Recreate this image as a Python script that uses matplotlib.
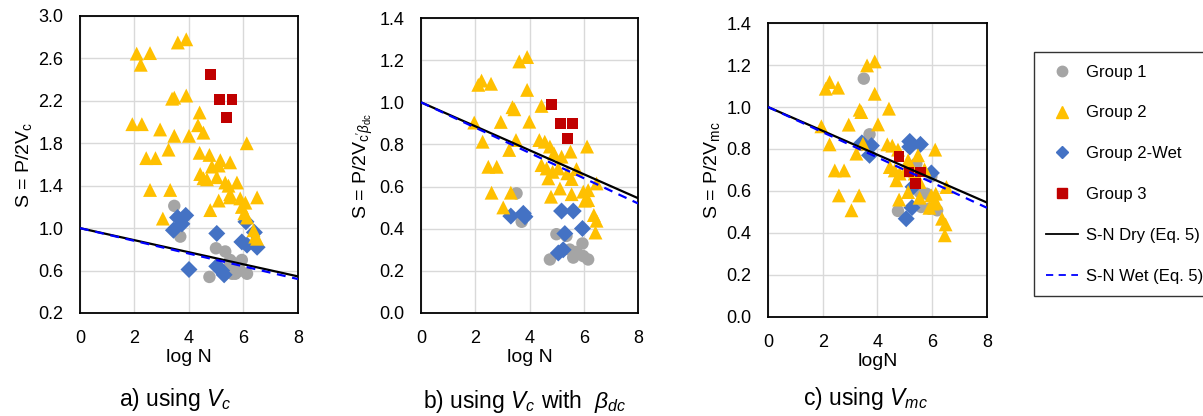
import matplotlib
matplotlib.use("Agg")
import matplotlib.pyplot as plt
import numpy as np
from matplotlib.lines import Line2D

plt.rcParams['font.family'] = ['Liberation Sans', 'DejaVu Sans']
plt.rcParams['mathtext.fontset'] = 'custom'
plt.rcParams['mathtext.rm'] = 'Liberation Sans'
plt.rcParams['mathtext.it'] = 'Liberation Sans:italic'

######### DATA #########
# panel a) S = P/2Vc
a_g1_x = [3.46, 3.68, 4.99, 5.33, 5.51, 5.64, 5.94, 5.58, 5.76, 5.88, 6.13, 4.75, 5.60, 5.45, 5.70]
a_g1_y = [1.21, 0.92, 0.81, 0.78, 0.70, 0.67, 0.70, 0.57, 0.59, 0.60, 0.57, 0.54, 0.60, 0.63, 0.57]
a_g2_x = [2.08, 2.57, 2.23, 3.59, 3.90, 3.38, 3.46, 3.90, 4.39, 1.92, 2.27, 4.33, 2.94, 4.00, 3.46,
          4.53, 6.12, 3.25, 2.43, 2.77, 4.39, 4.75, 5.15, 5.51, 4.84, 5.09, 4.41, 4.53, 4.66, 5.02,
          5.33, 5.45, 5.76, 2.57, 3.31, 5.51, 5.50, 5.88, 6.50, 6.07, 5.94, 5.09, 4.78, 3.04, 6.03,
          6.13, 6.37, 6.43, 6.50]
a_g2_y = [2.645, 2.65, 2.54, 2.75, 2.78, 2.22, 2.23, 2.25, 2.09, 1.98, 1.98, 1.97, 1.93, 1.87, 1.87,
          1.90, 1.80, 1.74, 1.66, 1.66, 1.71, 1.69, 1.64, 1.62, 1.58, 1.59, 1.51, 1.47, 1.46, 1.48,
          1.43, 1.40, 1.43, 1.36, 1.36, 1.32, 1.29, 1.28, 1.29, 1.24, 1.20, 1.26, 1.17, 1.09, 1.14,
          1.10, 0.98, 0.92, 0.90]
a_g2w_x = [3.88, 3.58, 3.74, 3.43, 5.02, 6.09, 6.40, 5.94, 6.13, 6.50, 4.00, 5.02, 5.20, 5.29]
a_g2w_y = [1.12, 1.10, 1.04, 0.98, 0.95, 1.06, 0.96, 0.87, 0.84, 0.82, 0.61, 0.64, 0.60, 0.56]
a_g3_x = [4.78, 5.12, 5.58, 5.39]
a_g3_y = [2.45, 2.21, 2.21, 2.04]

# panel b) S = P/2Vc'βdc
b_g1_x = [3.52, 3.71, 4.99, 5.36, 4.75, 5.48, 5.73, 5.61, 5.95, 6.16, 5.98]
b_g1_y = [0.568, 0.433, 0.374, 0.366, 0.254, 0.301, 0.290, 0.263, 0.330, 0.254, 0.270]
b_g2_x = [3.62, 3.91, 2.23, 2.11, 2.58, 3.91, 3.37, 3.44, 4.44, 1.96, 2.94, 3.99, 2.27, 3.50, 3.25,
          4.36, 4.56, 4.75, 4.90, 5.18, 5.51, 6.12, 2.48, 2.79, 4.44, 4.63, 4.85, 5.06, 5.39, 5.73,
          4.69, 5.55, 5.12, 6.47, 2.60, 3.31, 5.55, 4.79, 5.98, 6.16, 6.04, 6.16, 3.03, 6.37, 6.47,
          6.43]
b_g2_y = [1.194, 1.215, 1.103, 1.083, 1.088, 1.059, 0.977, 0.967, 0.983, 0.904, 0.907, 0.908, 0.813,
          0.821, 0.774, 0.821, 0.813, 0.790, 0.758, 0.742, 0.766, 0.790, 0.694, 0.694, 0.702, 0.686,
          0.670, 0.686, 0.663, 0.683, 0.639, 0.636, 0.591, 0.615, 0.571, 0.571, 0.564, 0.552, 0.576,
          0.583, 0.533, 0.536, 0.501, 0.465, 0.438, 0.382]
b_g2w_x = [3.31, 3.77, 3.83, 5.18, 5.61, 5.95, 5.06, 5.30, 5.24]
b_g2w_y = [0.460, 0.473, 0.457, 0.484, 0.484, 0.401, 0.285, 0.377, 0.300]
b_g3_x = [4.81, 5.14, 5.58, 5.40]
b_g3_y = [0.99, 0.90, 0.90, 0.83]

# panel c) S = P/2Vmc
c_g1_x = [3.50, 3.71, 4.75, 5.42, 5.54, 5.79, 5.60, 5.97, 6.18, 5.90, 5.30]
c_g1_y = [1.135, 0.870, 0.505, 0.730, 0.595, 0.587, 0.524, 0.670, 0.508, 0.516, 0.683]
c_g2_x = [3.62, 3.90, 2.25, 2.11, 2.56, 3.90, 3.35, 3.41, 4.42, 1.95, 2.95, 4.02, 2.25, 3.47, 3.23,
          4.36, 4.54, 4.75, 5.12, 5.48, 6.11, 2.44, 2.78, 4.45, 4.63, 4.81, 5.03, 5.36, 5.72, 4.69,
          5.54, 5.12, 6.52, 2.59, 3.33, 5.54, 4.79, 5.97, 6.13, 6.03, 6.15, 3.05, 6.36, 6.49, 6.46,
          5.90]
c_g2_y = [1.198, 1.217, 1.119, 1.087, 1.092, 1.063, 0.987, 0.976, 0.992, 0.908, 0.916, 0.917, 0.822,
          0.825, 0.778, 0.822, 0.816, 0.797, 0.746, 0.770, 0.797, 0.698, 0.698, 0.714, 0.698, 0.683,
          0.698, 0.683, 0.702, 0.651, 0.643, 0.595, 0.619, 0.579, 0.579, 0.568, 0.559, 0.579, 0.587,
          0.540, 0.544, 0.508, 0.468, 0.441, 0.389, 0.520]
c_g2w_x = [3.43, 3.78, 3.71, 5.18, 5.18, 5.57, 5.97, 5.05, 5.26, 5.30]
c_g2w_y = [0.829, 0.816, 0.770, 0.836, 0.810, 0.822, 0.686, 0.468, 0.521, 0.620]
c_g3_x = [4.79, 5.15, 5.57, 5.40]
c_g3_y = [0.765, 0.690, 0.690, 0.635]

# S-N curves (Eq. 5), end points at logN = 0 and 8
sn_logn = [0, 8]
sn_dry = [1.0, 0.545]
sn_wet = [1.0, 0.52]

######### STYLE #########
GRAY = '#A5A5A5'
YELLOW = '#FFC000'
BLUE = '#4472C4'
RED = '#C00000'

panels = [
    dict(pos=[0.0665, 0.2476, 0.1812, 0.714], ylim=(0.2, 3.0), yticks=np.arange(0.2, 3.01, 0.4),
         ylabel=r'S = P/2V$_{\mathrm{c}}$', xlabel='log N',
         cap=r'a) using $V_c$', capx=0.1455, capy=0.025,
         g1=(a_g1_x, a_g1_y), g2=(a_g2_x, a_g2_y), g2w=(a_g2w_x, a_g2w_y), g3=(a_g3_x, a_g3_y)),
    dict(pos=[0.350, 0.2476, 0.1804, 0.709], ylim=(0.0, 1.4), yticks=np.arange(0.0, 1.41, 0.2),
         ylabel=r"S = P/2V$_{\mathrm{c'}\beta_{\mathrm{dc}}}$", xlabel='log N',
         cap=r'b) using $V_c$ with  $\beta_{dc}$', capx=0.436, capy=0.020,
         g1=(b_g1_x, b_g1_y), g2=(b_g2_x, b_g2_y), g2w=(b_g2w_x, b_g2w_y), g3=(b_g3_x, b_g3_y)),
    dict(pos=[0.6384, 0.238, 0.182, 0.7067], ylim=(0.0, 1.4), yticks=np.arange(0.0, 1.41, 0.2),
         ylabel=r'S = P/2V$_{\mathrm{mc}}$', xlabel='logN',
         cap=r'c) using $V_{mc}$', capx=0.719, capy=0.027,
         g1=(c_g1_x, c_g1_y), g2=(c_g2_x, c_g2_y), g2w=(c_g2w_x, c_g2w_y), g3=(c_g3_x, c_g3_y)),
]

######### PLOTTING #########
fig = plt.figure(figsize=(12.03, 4.16), dpi=100)

for p in panels:
    ax = fig.add_axes(p['pos'])
    ax.scatter(*p['g1'], s=80, marker='o', color=GRAY, edgecolors='none', zorder=3)
    ax.scatter(*p['g2w'], s=75, marker='D', color=BLUE, edgecolors='none', zorder=3)
    ax.scatter(*p['g2'], s=100, marker='^', color=YELLOW, edgecolors='none', zorder=4)
    ax.scatter(*p['g3'], s=60, marker='s', color=RED, edgecolors='none', zorder=5)
    ax.plot(sn_logn, sn_dry, color='black', lw=1.6, zorder=6)
    ax.plot(sn_logn, sn_wet, color='#0000FF', lw=1.6, ls=(0, (4, 3)), zorder=6)

    ax.set_xlim(0, 8)
    ax.set_ylim(*p['ylim'])
    ax.set_xticks([0, 2, 4, 6, 8])
    ax.set_yticks(p['yticks'])
    ax.yaxis.set_major_formatter(matplotlib.ticker.FormatStrFormatter('%.1f'))
    ax.grid(True, color='#D9D9D9', lw=1.0)
    ax.set_axisbelow(True)
    ax.tick_params(length=0, labelsize=13, pad=12)
    for sp in ax.spines.values():
        sp.set_color('black')
        sp.set_linewidth(1.3)
    ax.set_xlabel(p['xlabel'], fontsize=14, labelpad=2)
    ax.set_ylabel(p['ylabel'], fontsize=14, labelpad=3)
    fig.text(p['capx'], p['capy'], p['cap'], fontsize=16.5, ha='center', va='baseline')

handles = [
    Line2D([], [], ls='none', marker='o', color=GRAY, markersize=7.5),
    Line2D([], [], ls='none', marker='^', color=YELLOW, markersize=9),
    Line2D([], [], ls='none', marker='D', color=BLUE, markersize=6.5),
    Line2D([], [], ls='none', marker='s', color=RED, markersize=6.5),
    Line2D([], [], color='black', lw=1.3),
    Line2D([], [], color='#0000FF', lw=1.3, ls=(0, (4, 3))),
]
labels = ['Group 1', 'Group 2', 'Group 2-Wet', 'Group 3', 'S-N Dry (Eq. 5)', 'S-N Wet (Eq. 5)']
leg = fig.legend(handles, labels, loc='upper left', bbox_to_anchor=(0.8595, 0.875),
                 fontsize=12, frameon=True, fancybox=False, edgecolor='black',
                 labelspacing=1.55, handlelength=1.9, handletextpad=0.5, borderpad=0.75,
                 borderaxespad=0)
leg.get_frame().set_linewidth(1.0)

fig.savefig('out.png', dpi=100)
